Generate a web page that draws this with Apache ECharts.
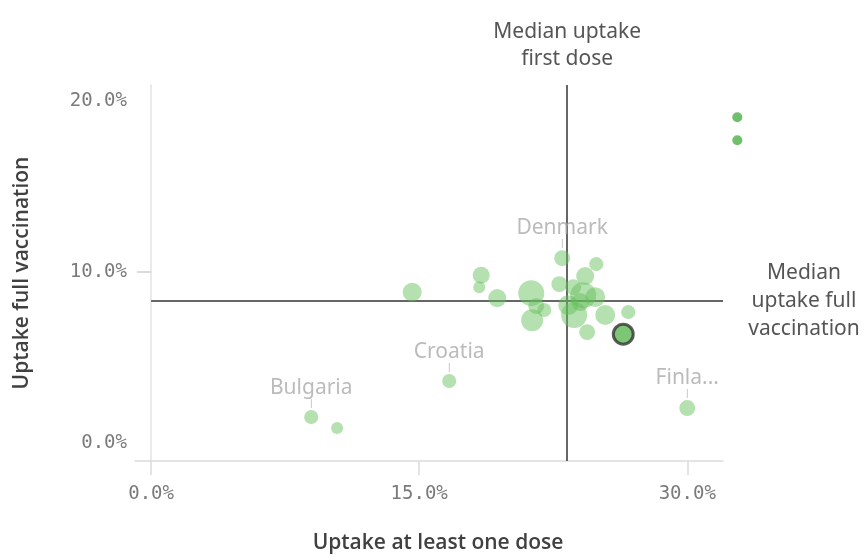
<!DOCTYPE html>
<html>
<head>
<meta charset="utf-8">
<script src="https://cdn.jsdelivr.net/npm/echarts@6/dist/echarts.min.js"></script>
<style>
html,body{margin:0;padding:0;background:#fff;}
#chart{width:866px;height:558px;}
</style>
</head>
<body>
<div id="chart"></div>
<script>
// Country names (only some are labelled)
var countries = ['Bulgaria','C2','Croatia','Finland','C5','C6','C7','C8','C9','C10','C11','C12','Denmark','C14','C15','C16','C17','C18','C19','C20','C21','C22','C23','C24','C25'];
// Uptake at least one dose (%)
var firstDose = [8.96,10.41,16.68,30.0,14.61,18.47,18.36,19.37,21.27,21.55,22.0,21.32,23.0,24.91,22.84,24.29,23.62,24.18,24.01,23.34,23.67,25.41,26.7,24.4,24.85];
// Uptake full vaccination (%)
var fullVacc = [1.52,0.88,3.63,2.05,8.83,9.82,9.12,8.48,8.77,8.01,7.78,7.19,10.82,10.47,9.30,9.77,9.12,8.65,8.25,8.07,7.49,7.49,7.66,6.49,8.54];
// Bubble weight (relative population)
var weight = [22,16,22,28,40,32,16,36,75,28,22,54,28,22,28,36,28,75,36,44,75,44,22,28,44];
var labelled = {'Bulgaria':1,'Croatia':1,'Denmark':1,'Finland':1};

// Highlighted country
var highlightX = [26.42], highlightY = [6.37], highlightW = [44];
// Out-of-range reference points
var outX = [32.8, 32.8], outY = [19.06, 17.72];

// Medians
var medianFirstDose = 23.28;
var medianFull = 8.3;

var xTicks = [0, 15, 30];
var yTicks = [0, 10, 20];
var yTickMarks = [10];

var pts = firstDose.map(function(x, i){ return {name: countries[i], value:[x, fullVacc[i], weight[i]]}; });
var hl = highlightX.map(function(x,i){ return {name:'Selected', value:[x, highlightY[i], highlightW[i]]}; });
var outs = outX.map(function(x,i){ return [x, outY[i]]; });

var XMIN=-0.9, XMAX=32, YMIN=-1.05, YMAX=20.95;
var sizeFn = function(v){ return Math.sqrt(v[2]) * 3; };
var labelFont = '"Noto Sans", sans-serif';
var titleFont = '"Open Sans", "Noto Sans", sans-serif';
var monoFont = '"DejaVu Sans Mono", monospace';

var chart = echarts.init(document.getElementById('chart'), null, {renderer:'canvas'});
chart.setOption({
  animation:false,
  grid:{left:135, right:143, top:85, bottom:97, containLabel:false, outerBoundsMode:'none'},
  xAxis:{
    type:'value', min:XMIN, max:XMAX,
    axisLine:{show:true, onZero:false, lineStyle:{color:'#dcdcdc', width:1.5}},
    axisTick:{show:true, customValues:xTicks, length:14, lineStyle:{color:'#dcdcdc', width:1.5}},
    axisLabel:{customValues:xTicks, margin:24, color:'#7a7a7a', fontFamily:monoFont, fontSize:19,
      formatter:function(v){return v.toFixed(1)+'%';}},
    splitLine:{show:false},
    name:'Uptake at least one dose', nameLocation:'middle', nameGap:72,
    nameTextStyle:{color:'#404040', fontFamily:titleFont, fontWeight:600, fontSize:21, padding:[0,0,0,18]}
  },
  yAxis:{
    type:'value', min:YMIN, max:YMAX,
    axisLine:{show:true, onZero:true, lineStyle:{color:'#e3e3e3', width:1.5}},
    axisTick:{show:true, customValues:yTickMarks, length:14, lineStyle:{color:'#cfcfcf', width:1.5}},
    axisLabel:{customValues:yTicks, margin:8, color:'#7a7a7a', fontFamily:monoFont, fontSize:19,
      formatter:function(v){return v.toFixed(1)+'%';}},
    splitLine:{show:false},
    name:'Uptake full vaccination', nameLocation:'middle', nameGap:102, nameRotate:90,
    nameTextStyle:{color:'#404040', fontFamily:titleFont, fontWeight:600, fontSize:21}
  },
  series:[
    {
      type:'scatter', data:pts, symbolSize:sizeFn, z:3,
      itemStyle:{color:'rgba(100,190,90,0.6)'},
      label:{
        show:true, position:'top', distance:2,
        formatter:function(p){
          if(!labelled[p.name]) return '';
          var n = p.name === 'Finland' ? 'Finla...' : p.name;
          return '{a|'+n+'}\n{b||}';
        },
        rich:{
          a:{color:'#aaaaaa', fontFamily:labelFont, fontSize:21, lineHeight:22, align:'center'},
          b:{color:'#aaaaaa', fontFamily:'"DejaVu Sans", sans-serif', fontSize:9, lineHeight:9, align:'center'}
        }
      },
      markLine:{
        silent:true, symbol:'none', z:2,
        lineStyle:{color:'#666', width:2, type:'solid'},
        data:[
          [{coord:[medianFirstDose, YMIN]},{coord:[medianFirstDose, YMAX],
            label:{show:true, position:'end', distance:12, formatter:'Median uptake\nfirst dose', color:'#555', fontFamily:labelFont, fontSize:21, lineHeight:27, align:'center'}}],
          [{coord:[0, medianFull]},{coord:[XMAX, medianFull],
            label:{show:true, position:'end', distance:81, formatter:'Median\nuptake full\nvaccination', color:'#555', fontFamily:labelFont, fontSize:21, lineHeight:28, align:'center', verticalAlign:'middle'}}]
        ]
      }
    },
    {
      type:'scatter', data:hl, symbolSize:sizeFn, z:4,
      itemStyle:{color:'#5cb853', borderColor:'#333', borderWidth:3}
    },
    {
      type:'scatter', data:outs, symbolSize:10, clip:false, z:4,
      itemStyle:{color:'#4caf45'}
    }
  ]
});
</script>
</body>
</html>
